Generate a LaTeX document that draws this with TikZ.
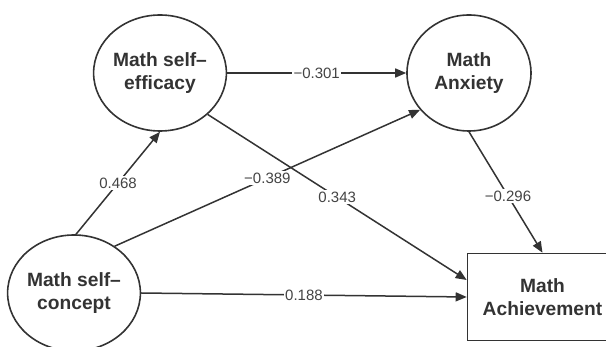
\documentclass[tikz,border=0pt]{standalone}
\usepackage{fontspec}
\setmainfont{Liberation Sans}
\usetikzlibrary{arrows.meta,shapes.geometric}
\definecolor{lc}{HTML}{333333}
\definecolor{tc}{HTML}{333333}
\definecolor{labc}{HTML}{444444}
\begin{document}
\begin{tikzpicture}[x=1pt,y=-1pt,
  latent/.style={ellipse, draw=lc, line width=1.6pt, minimum width=124pt, minimum height=116pt,
    inner sep=0pt, align=center, text=tc, font=\fontsize{19.2}{23.5}\selectfont\bfseries},
  observed/.style={rectangle, draw=lc, line width=1.6pt, minimum width=150pt, minimum height=87pt,
    inner sep=0pt, align=center, text=tc, font=\fontsize{19.2}{23.5}\selectfont\bfseries},
  pathedge/.style={draw=lc, line width=1.5pt, -{Triangle[length=11pt,width=9pt]}},
  coef/.style={fill=white, inner sep=1.5pt, text=labc, font=\fontsize{15}{17}\selectfont}
]
\useasboundingbox (0,0) rectangle (606,347);
\clip (0,0) rectangle (606,347);

\node[latent] (eff) at (160,73) {Math self–\\efficacy};
\node[latent] (anx) at (469,73) {Math\\Anxiety};
\node[latent] (con) at (74,293) {Math self–\\concept};
\node[observed] (ach) at (542.5,297) {Math\\Achievement};

\draw[pathedge] (eff.east) -- node[coef] {−0.301} (anx.west);
\draw[pathedge] (con.88) -- node[coef] {0.468} (eff.south);
\draw[pathedge] (con.49) -- node[coef] {−0.389} (anx.217);
\draw[pathedge] (eff.319) -- node[coef] {0.343} ([yshift=17pt]ach.west);
\draw[pathedge] (anx.south) -- node[coef, pos=0.53] {−0.296} (ach.north);
\draw[pathedge] (con.east) -- node[coef] {0.188} (ach.west);
\end{tikzpicture}
\end{document}
